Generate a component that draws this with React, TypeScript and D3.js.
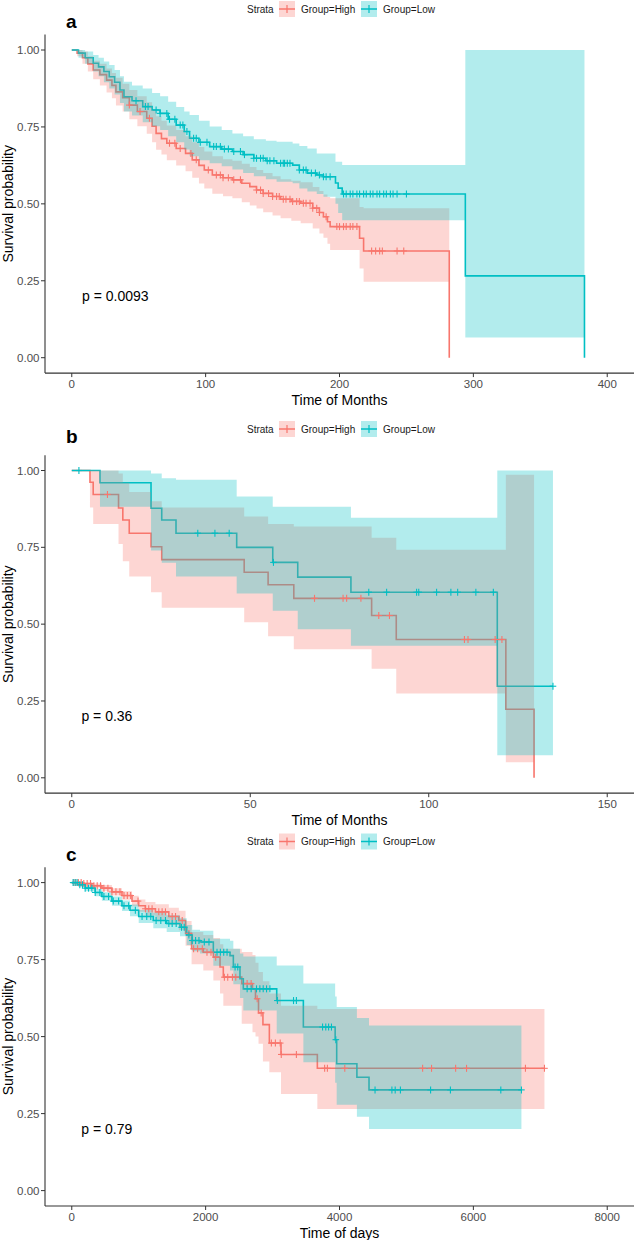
import React from 'react';
import * as d3 from 'd3';

const RED = '#F8766D';
const TEAL = '#00BFC4';
const FONT = '"Liberation Sans", Arial, Helvetica, sans-serif';

// ---------- Panel a ----------
const aHighTime = [0, 4, 8, 12, 16, 21, 26, 30, 33, 38, 43, 49, 56, 60, 63, 67, 71, 78, 85, 90, 95, 99, 105, 113, 120, 127, 133, 138, 143, 150, 156, 164, 171, 180, 185, 188, 191, 193, 215, 218];
const aHighSurv = [1, 0.99, 0.975, 0.955, 0.935, 0.92, 0.902, 0.885, 0.864, 0.845, 0.821, 0.8, 0.778, 0.752, 0.729, 0.712, 0.697, 0.68, 0.664, 0.643, 0.625, 0.61, 0.594, 0.585, 0.578, 0.567, 0.556, 0.545, 0.534, 0.524, 0.515, 0.508, 0.502, 0.486, 0.472, 0.458, 0.442, 0.426, 0.388, 0.347];
const aHighUpper = [1, 1, 0.995, 0.98, 0.965, 0.955, 0.94, 0.925, 0.91, 0.89, 0.87, 0.85, 0.83, 0.805, 0.785, 0.77, 0.755, 0.74, 0.72, 0.7, 0.685, 0.67, 0.655, 0.645, 0.64, 0.63, 0.62, 0.61, 0.6, 0.59, 0.58, 0.575, 0.57, 0.555, 0.542, 0.53, 0.522, 0.518, 0.49, 0.486];
const aHighLower = [1, 0.98, 0.955, 0.93, 0.905, 0.885, 0.862, 0.843, 0.82, 0.8, 0.775, 0.752, 0.728, 0.7, 0.676, 0.66, 0.642, 0.625, 0.606, 0.585, 0.566, 0.55, 0.533, 0.525, 0.518, 0.505, 0.495, 0.485, 0.473, 0.462, 0.453, 0.445, 0.437, 0.42, 0.404, 0.39, 0.37, 0.35, 0.29, 0.247];
const aHighEnd = 282;
const aHighCensor = [43, 51, 58, 73, 77, 81, 89, 93, 102, 108, 111, 113, 117, 121, 126, 138, 141, 143, 147, 150, 153, 155, 158, 160, 163, 165, 168, 170, 173, 175, 178, 180, 183, 185, 190, 198, 200, 203, 205, 208, 210, 213, 224, 227, 230, 232, 243, 248];

const aLowTime = [0, 5, 10, 16, 20, 24, 28, 32, 36, 39, 45, 53, 60, 66, 72, 78, 84, 88, 95, 103, 112, 120, 128, 136, 145, 153, 165, 170, 176, 183, 188, 197, 199, 202, 294];
const aLowSurv = [1, 0.99, 0.975, 0.957, 0.945, 0.93, 0.913, 0.895, 0.87, 0.848, 0.835, 0.816, 0.805, 0.794, 0.775, 0.756, 0.735, 0.713, 0.7, 0.686, 0.678, 0.67, 0.66, 0.648, 0.64, 0.632, 0.626, 0.61, 0.6, 0.594, 0.588, 0.568, 0.551, 0.532, 0.266];
const aLowUpper = [1, 1, 0.995, 0.984, 0.975, 0.963, 0.951, 0.935, 0.915, 0.897, 0.885, 0.875, 0.86, 0.85, 0.832, 0.815, 0.8, 0.789, 0.77, 0.751, 0.74, 0.729, 0.72, 0.71, 0.705, 0.702, 0.696, 0.688, 0.68, 0.664, 0.664, 0.637, 0.637, 0.626, 1.0];
const aLowLower = [1, 0.975, 0.955, 0.93, 0.915, 0.895, 0.875, 0.855, 0.828, 0.8, 0.787, 0.765, 0.752, 0.74, 0.72, 0.7, 0.677, 0.655, 0.642, 0.632, 0.622, 0.612, 0.6, 0.59, 0.58, 0.572, 0.567, 0.55, 0.54, 0.532, 0.523, 0.5, 0.47, 0.447, 0.066];
const aLowEnd = 383;
const aLowCensor = [48, 55, 57, 63, 66, 71, 73, 77, 81, 83, 86, 91, 93, 96, 101, 106, 108, 111, 114, 117, 121, 126, 129, 136, 138, 141, 143, 146, 148, 151, 156, 158, 159, 161, 163, 170, 173, 175, 179, 182, 185, 188, 190, 193, 203, 205, 208, 210, 213, 215, 218, 220, 223, 225, 228, 230, 233, 235, 238, 240, 243, 250];

// ---------- Panel b ----------
const bHighTime = [0, 5.1, 6, 13.1, 14.3, 16.1, 22.2, 25.2, 48.3, 55, 62.2, 84, 90.9, 121.6];
const bHighSurv = [1, 0.962, 0.922, 0.878, 0.839, 0.796, 0.752, 0.71, 0.669, 0.628, 0.584, 0.528, 0.45, 0.223];
const bHighUpper = [1, 1, 1, 0.99, 0.96, 0.93, 0.9, 0.88, 0.85, 0.826, 0.818, 0.781, 0.742, 0.986];
const bHighLower = [1, 0.88, 0.826, 0.761, 0.705, 0.655, 0.604, 0.553, 0.506, 0.461, 0.418, 0.355, 0.274, 0.051];
const bHighEnd = 129.5;
const bHighCensor = [10, 68, 76, 77, 81, 86, 89, 110, 111, 118.6, 120.5];

const bLowTime = [0, 7.9, 22.2, 25.2, 29.2, 46.2, 56.3, 63.3, 78.2, 119.2];
const bLowSurv = [1, 0.96, 0.877, 0.839, 0.796, 0.75, 0.701, 0.653, 0.604, 0.298];
const bLowUpper = [1, 1, 0.99, 0.975, 0.97, 0.915, 0.882, 0.882, 0.846, 1];
const bLowLower = [1, 0.882, 0.74, 0.7, 0.655, 0.6, 0.544, 0.483, 0.43, 0.073];
const bLowEnd = 134.8;
const bLowCensor = [2, 35.3, 40.1, 44.1, 56.5, 83.2, 88.2, 96.6, 97.2, 102.2, 106.2, 108.1, 113.2, 118.1, 134.8];

// ---------- Panel c ----------
const cHighTime = [0, 150, 300, 450, 600, 750, 900, 1000, 1100, 1250, 1450, 1600, 1700, 1790, 1965, 2115, 2215, 2264, 2539, 2700, 2745, 2790, 2856, 2952, 3126, 3669];
const cHighSurv = [1, 0.997, 0.99, 0.982, 0.97, 0.958, 0.94, 0.925, 0.915, 0.905, 0.89, 0.877, 0.835, 0.785, 0.774, 0.758, 0.726, 0.693, 0.672, 0.655, 0.623, 0.577, 0.539, 0.479, 0.442, 0.397];
const cHighLower = [1, 0.992, 0.983, 0.972, 0.958, 0.944, 0.923, 0.905, 0.893, 0.88, 0.862, 0.845, 0.795, 0.735, 0.715, 0.682, 0.64, 0.6, 0.542, 0.514, 0.5, 0.477, 0.419, 0.384, 0.314, 0.265];
const cHighUpper = [1, 1, 0.997, 0.992, 0.982, 0.972, 0.957, 0.945, 0.937, 0.93, 0.918, 0.909, 0.875, 0.84, 0.83, 0.82, 0.8, 0.785, 0.775, 0.765, 0.74, 0.71, 0.68, 0.64, 0.6, 0.59];
const cHighEnd = 7062;
const cHighCensor = [30, 60, 100, 140, 180, 230, 280, 330, 380, 430, 480, 540, 600, 660, 720, 780, 830, 880, 990, 1100, 1150, 1200, 1300, 1350, 1400, 1500, 1550, 1650, 1750, 1820, 1880, 1950, 2020, 2080, 2150, 2280, 2330, 2400, 2450, 2620, 2680, 2770, 2830, 2982, 3042, 3114, 3130, 3356, 3778, 3819, 4079, 5242, 5375, 5735, 5898, 6778, 7062];

const cLowTime = [0, 100, 200, 350, 450, 600, 750, 870, 1000, 1218, 1418, 1617, 1717, 1800, 1916, 2115, 2364, 2414, 2513, 2563, 3062, 3460, 3935, 3958, 4260, 4441];
const cLowSurv = [1, 0.993, 0.982, 0.968, 0.955, 0.94, 0.925, 0.91, 0.89, 0.877, 0.867, 0.855, 0.83, 0.812, 0.807, 0.774, 0.763, 0.726, 0.688, 0.655, 0.617, 0.531, 0.49, 0.412, 0.368, 0.327];
const cLowLower = [1, 0.986, 0.972, 0.956, 0.941, 0.925, 0.908, 0.891, 0.869, 0.852, 0.84, 0.826, 0.797, 0.777, 0.77, 0.73, 0.715, 0.67, 0.625, 0.585, 0.51, 0.417, 0.35, 0.279, 0.24, 0.2];
const cLowUpper = [1, 1, 0.992, 0.98, 0.969, 0.955, 0.942, 0.929, 0.911, 0.902, 0.894, 0.884, 0.862, 0.847, 0.844, 0.818, 0.811, 0.785, 0.77, 0.76, 0.731, 0.672, 0.63, 0.596, 0.56, 0.536];
const cLowEnd = 6718;
const cLowCensor = [20, 50, 80, 120, 160, 200, 250, 300, 350, 420, 480, 550, 620, 700, 780, 850, 950, 1050, 1120, 1180, 1260, 1330, 1400, 1450, 1500, 1560, 1640, 1680, 1750, 1800, 1850, 1900, 1980, 2050, 2170, 2220, 2270, 2320, 2440, 2480, 2620, 2680, 2760, 2810, 2860, 2910, 2960, 3072, 3313, 3356, 3747, 3795, 3837, 3880, 3945, 4531, 4783, 4832, 4910, 5361, 5657, 6410, 6718];

// ---------- Axis / text ----------
const aTicks = [0, 100, 200, 300, 400];
const bTicks = [0, 50, 100, 150];
const cTicks = [0, 2000, 4000, 6000, 8000];
const yTicks = [0, 0.25, 0.5, 0.75, 1];
const legendLabels = ['Group=High', 'Group=Low'];

type Curve = {
  time: number[]; surv: number[]; lower: number[]; upper: number[];
  end: number; toZero: boolean; censor: number[]; color: string;
};

type PanelProps = {
  letter: string; letterY: number; legendY: number; y1: number; y0: number;
  xDomain: [number, number]; xTicks: number[]; xLabel: string; pval: string;
  high: Curve; low: Curve;
};

function stepValue(c: Curve, t: number) {
  let v = c.surv[0];
  for (let i = 0; i < c.time.length; i++) if (c.time[i] <= t) v = c.surv[i];
  return v;
}

function Panel(p: PanelProps) {
  const x = d3.scaleLinear().domain(p.xDomain).range([45, 634]);
  const y = d3.scaleLinear().domain([0, 1]).range([p.y0, p.y1]);
  const top = y(1.05), bottom = y(-0.05);
  const curves = [p.high, p.low];

  const pts = (c: Curve) => {
    const arr = c.time.map((t, i) => ({ t, s: c.surv[i], lo: c.lower[i], hi: c.upper[i] }));
    const n = arr.length - 1;
    arr.push({ t: c.end, s: c.surv[n], lo: c.lower[n], hi: c.upper[n] });
    return arr;
  };
  const linePath = (c: Curve) => {
    const arr = pts(c).map(d => [x(d.t), y(d.s)] as [number, number]);
    if (c.toZero) arr.push([x(c.end), y(0)]);
    return d3.line().curve(d3.curveStepAfter)(arr) || '';
  };
  const areaPath = (c: Curve) =>
    d3.area<{ t: number; lo: number; hi: number }>()
      .curve(d3.curveStepAfter)
      .x(d => x(d.t)).y0(d => y(d.lo)).y1(d => y(d.hi))(pts(c)) || '';

  const maxT = Math.max(p.high.end, p.low.end);
  const colors = [RED, TEAL];

  return (
    <g>
      <text x={66} y={p.letterY} fontSize={19} fontWeight="bold" fontFamily={FONT} fill="#000">{p.letter}</text>
      <g fontFamily={FONT} fontSize={10} fill="#1a1a1a">
        <text x={247} y={p.legendY} dominantBaseline="central">Strata</text>
        {legendLabels.map((lab, i) => {
          const kx = 279 + i * 82;
          return (
            <g key={lab}>
              <rect x={kx} y={p.legendY - 8} width={16} height={16} fill={colors[i]} fillOpacity={0.3} />
              <line x1={kx} x2={kx + 16} y1={p.legendY} y2={p.legendY} stroke={colors[i]} strokeWidth={1.5} />
              <line x1={kx + 8} x2={kx + 8} y1={p.legendY - 4} y2={p.legendY + 4} stroke={colors[i]} strokeWidth={1.2} />
              <text x={kx + 22} y={p.legendY} dominantBaseline="central">{lab}</text>
            </g>
          );
        })}
      </g>
      {curves.map((c, i) => (
        <path key={'l' + i} d={linePath(c)} fill="none" stroke={c.color} strokeWidth={1.6} />
      ))}
      {curves.map((c, i) => (
        <path key={'a' + i} d={areaPath(c)} fill={c.color} fillOpacity={0.3} stroke="none" />
      ))}
      {curves.map((c, i) => (
        <g key={'c' + i} stroke={c.color} strokeWidth={1.1}>
          {c.censor.map((t, j) => {
            const cx = x(t), cy = y(stepValue(c, t));
            return (
              <g key={j}>
                <line x1={cx - 3.3} x2={cx + 3.3} y1={cy} y2={cy} />
                <line x1={cx} x2={cx} y1={cy - 3.5} y2={cy + 3.5} />
              </g>
            );
          })}
        </g>
      ))}
      <text x={x(maxT / 50)} y={y(0.2)} dominantBaseline="central" fontFamily={FONT} fontSize={14} fill="#000">{p.pval}</text>
      <line x1={45} x2={634} y1={bottom} y2={bottom} stroke="#333" strokeWidth={1.1} />
      <line x1={45} x2={45} y1={top} y2={bottom} stroke="#333" strokeWidth={1.1} />
      {p.xTicks.map(t => (
        <g key={'xt' + t}>
          <line x1={x(t)} x2={x(t)} y1={bottom} y2={bottom + 4} stroke="#333" strokeWidth={1} />
          <text x={x(t)} y={bottom + 11} textAnchor="middle" dominantBaseline="central" fontFamily={FONT} fontSize={11.5} fill="#4D4D4D">{t}</text>
        </g>
      ))}
      {yTicks.map(t => (
        <g key={'yt' + t}>
          <line x1={41} x2={45} y1={y(t)} y2={y(t)} stroke="#333" strokeWidth={1} />
          <text x={39.5} y={y(t)} textAnchor="end" dominantBaseline="central" fontFamily={FONT} fontSize={11.5} fill="#4D4D4D">{t.toFixed(2)}</text>
        </g>
      ))}
      <text x={(45 + 634) / 2} y={bottom + 26.5} textAnchor="middle" dominantBaseline="central" fontFamily={FONT} fontSize={14} fill="#000">{p.xLabel}</text>
      <text transform={`translate(7.5,${(top + bottom) / 2}) rotate(-90)`} textAnchor="middle" dominantBaseline="central" fontFamily={FONT} fontSize={14} fill="#000">Survival probability</text>
    </g>
  );
}

const mk = (time: number[], surv: number[], lower: number[], upper: number[], end: number, toZero: boolean, censor: number[], color: string): Curve =>
  ({ time, surv, lower, upper, end, toZero, censor, color });

export default function App() {
  return (
    <svg width={635} height={1240} style={{ position: 'absolute', left: 0, top: 0, background: '#fff' }}>
      <rect width={635} height={1240} fill="#fff" />
      <Panel letter="a" letterY={28} legendY={9} y1={50} y0={357.7} xDomain={[-20, 420]} xTicks={aTicks}
        xLabel="Time of Months" pval="p = 0.0093"
        high={mk(aHighTime, aHighSurv, aHighLower, aHighUpper, aHighEnd, true, aHighCensor, RED)}
        low={mk(aLowTime, aLowSurv, aLowLower, aLowUpper, aLowEnd, true, aLowCensor, TEAL)} />
      <Panel letter="b" letterY={443} legendY={429} y1={470.5} y0={777.8} xDomain={[-7.5, 157.5]} xTicks={bTicks}
        xLabel="Time of Months" pval="p = 0.36"
        high={mk(bHighTime, bHighSurv, bHighLower, bHighUpper, bHighEnd, true, bHighCensor, RED)}
        low={mk(bLowTime, bLowSurv, bLowLower, bLowUpper, bLowEnd, false, bLowCensor, TEAL)} />
      <Panel letter="c" letterY={861} legendY={841.5} y1={882.6} y0={1190.6} xDomain={[-400, 8400]} xTicks={cTicks}
        xLabel="Time of days" pval="p = 0.79"
        high={mk(cHighTime, cHighSurv, cHighLower, cHighUpper, cHighEnd, false, cHighCensor, RED)}
        low={mk(cLowTime, cLowSurv, cLowLower, cLowUpper, cLowEnd, false, cLowCensor, TEAL)} />
    </svg>
  );
}
